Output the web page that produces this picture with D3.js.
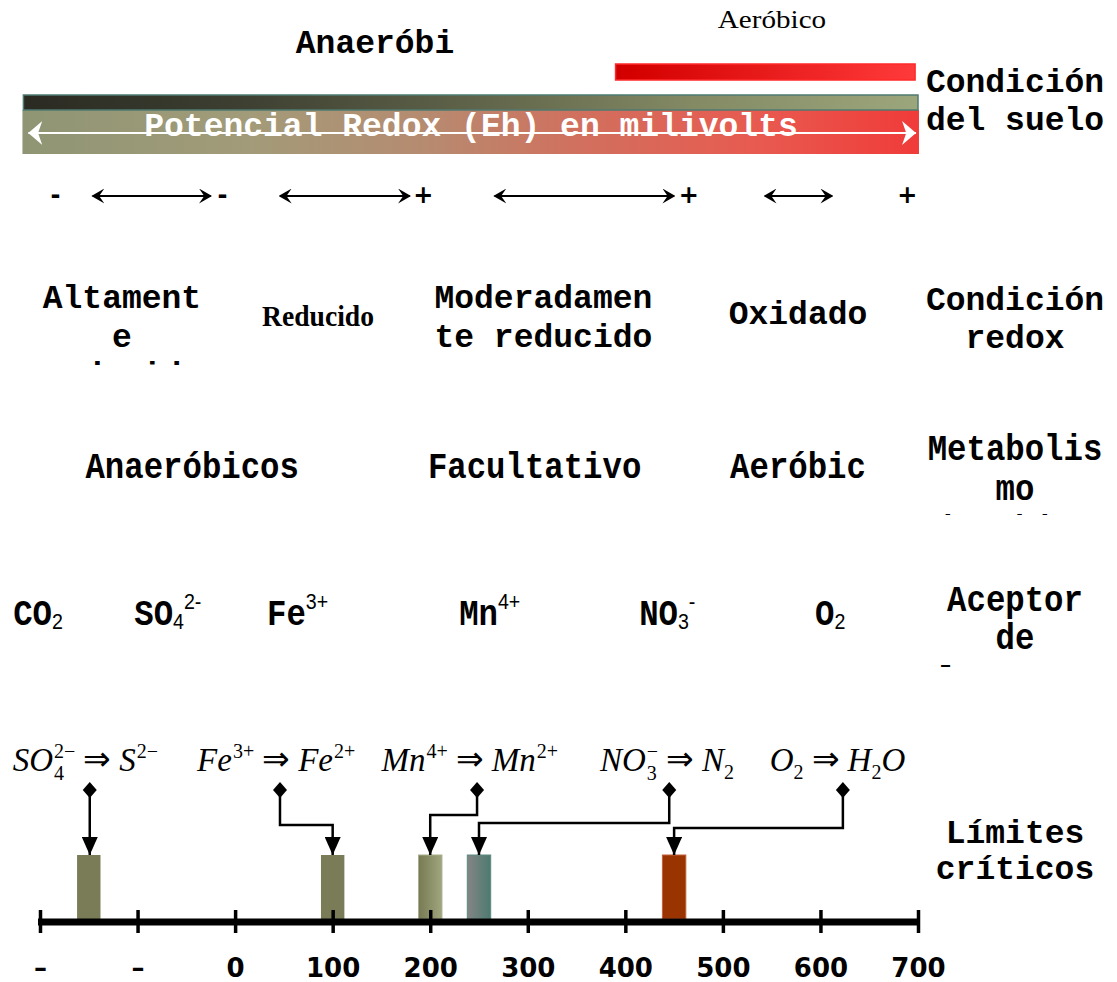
<!DOCTYPE html>
<html>
<head>
<meta charset="utf-8">
<script src="https://cdn.jsdelivr.net/npm/d3@7"></script>
<style>
  html, body { margin: 0; padding: 0; background: #ffffff; }
  svg { display: block; }
</style>
</head>
<body>
<svg id="chart" width="1117" height="982"></svg>
<script>
// ---------------- DATA ----------------
const axisTicks = [-200, -100, 0, 100, 200, 300, 400, 500, 600, 700];
const axisTickLabels = ["–", "–", "0", "100", "200", "300", "400", "500", "600", "700"];

// Critical limits (Eh, mV) for each reduction reaction
const limitReactions = ["SO4→S", "Fe3+→Fe2+", "Mn4+→Mn2+", "NO3→N2", "O2→H2O"];
const limitValues = [-150, 100, 200, 250, 450];
const limitWidth = 24; // mV wide marks

// Eh where each reaction label's pointer starts
const reactionPointerEh = [-149, 46, 248, 445, 623];

// Rows of labels
const redoxConditions = [["Altament", "e", "reducido"], ["Reducido"], ["Moderadamen", "te reducido"], ["Oxidado"]];
const redoxConditionEh = [-116, 85, 316, 577];

const metabolismTypes = ["Anaeróbicos", "Facultativo", "Aeróbic"];
const metabolismEh = [-44, 307, 577];

const acceptors = [
  [{t: "CO"}, {sub: "2"}],
  [{t: "SO"}, {sub: "4"}, {sup: "2-"}],
  [{t: "Fe"}, {sup: "3+"}],
  [{t: "Mn"}, {sup: "4+"}],
  [{t: "NO"}, {sub: "3"}, {sup: "-"}],
  [{t: "O"}, {sub: "2"}]
];
const acceptorEh = [-202, -69, 64, 261, 443, 610];

const reactions = [
  [{t: "SO"}, {subsup: ["4", "2−"]}, {op: "⇒"}, {t: "S"}, {sup: "2−"}],
  [{t: "Fe"}, {sup: "3+"}, {op: "⇒"}, {t: "Fe"}, {sup: "2+"}],
  [{t: "Mn"}, {sup: "4+"}, {op: "⇒"}, {t: "Mn"}, {sup: "2+"}],
  [{t: "NO"}, {subsup: ["3", "−"]}, {op: "⇒"}, {t: "N"}, {sub: "2"}],
  [{t: "O"}, {sub: "2"}, {op: "⇒"}, {t: "H"}, {sub: "2"}, {t: "O"}]
];
const reactionStartEh = [-228, -39, 150, 374, 548];

const rangeSigns = ["-", "-", "+", "+", "+"];
const rangeSignEh = [-184, -13, 193, 465, 689];
const rangeArrows = [[-146, -25], [46, 179], [266, 450], [543, 612]];

const rowTitles = [
  ["Condición", "del suelo"],
  ["Condición", "redox"],
  ["Metabolis", "mo", "microbiano"],
  ["Aceptor", "de", "electrones"],
  ["Límites", "críticos"]
];

// ---------------- CHART ----------------
const svg = d3.select("#chart");
const x = d3.scaleLinear().domain([-200, 700]).range([40, 918]);
const mono = "'Liberation Mono', 'Courier New', monospace";
const serif = "'Liberation Serif', 'Times New Roman', serif";
const FS = 33;

const defs = svg.append("defs");
function grad(id, stops) {
  const g = defs.append("linearGradient").attr("id", id).attr("x1", "0%").attr("x2", "100%").attr("y1", "0%").attr("y2", "0%");
  stops.forEach(([o, c]) => g.append("stop").attr("offset", o).attr("stop-color", c));
}
grad("gStrip", [["0%", "#2a2a22"], ["25%", "#3e4032"], ["50%", "#5f6349"], ["75%", "#838a64"], ["100%", "#9ca67c"]]);
grad("gMain", [["0%", "#8f9574"], ["25%", "#a29b79"], ["45%", "#b68b70"], ["62%", "#d1705e"], ["82%", "#e85a50"], ["100%", "#f03b39"]]);
grad("gRed", [["0%", "#d00000"], ["5%", "#d40000"], ["100%", "#ff3a3a"]]);
grad("gBar3", [["0%", "#777a52"], ["100%", "#a0a67e"]]);
grad("gBar4", [["0%", "#858585"], ["100%", "#4c7a70"]]);

defs.append("marker").attr("id", "arrowHead").attr("viewBox", "0 0 10 10").attr("refX", 9).attr("refY", 5)
  .attr("markerWidth", 13).attr("markerHeight", 15).attr("markerUnits", "userSpaceOnUse").attr("orient", "auto-start-reverse")
  .attr("preserveAspectRatio", "none")
  .append("path").attr("d", "M0,0 L10,5 L0,10 L4,5 Z").attr("fill", "#000");
defs.append("marker").attr("id", "whiteHead").attr("viewBox", "0 0 10 10").attr("refX", 10).attr("refY", 5)
  .attr("markerWidth", 14).attr("markerHeight", 24).attr("markerUnits", "userSpaceOnUse").attr("orient", "auto-start-reverse")
  .attr("preserveAspectRatio", "none")
  .append("path").attr("d", "M0,0 L10,5 L0,10 L3,5 Z").attr("fill", "#fff");
defs.append("marker").attr("id", "downHead").attr("viewBox", "0 0 10 10").attr("refX", 5).attr("refY", 10)
  .attr("markerWidth", 16).attr("markerHeight", 18).attr("markerUnits", "userSpaceOnUse").attr("orient", "0")
  .attr("preserveAspectRatio", "none")
  .append("path").attr("d", "M0,0 L10,0 L5,10 Z").attr("fill", "#000");

// ---- Header ----
svg.append("text").attr("x", 375).attr("y", 53).attr("text-anchor", "middle")
  .attr("font-family", mono).attr("font-weight", "bold").attr("font-size", FS).text("Anaeróbi");
svg.append("text").attr("x", 772).attr("y", 28).attr("text-anchor", "middle")
  .attr("font-family", serif).attr("font-size", 26)
  .attr("transform", "translate(772,0) scale(1.12,1) translate(-772,0)").text("Aeróbico");

svg.append("rect").attr("x", x(390)).attr("y", 64).attr("width", x(697) - x(390)).attr("height", 16)
  .attr("fill", "url(#gRed)").attr("stroke", "#ff2a2a").attr("stroke-width", 1.5);

svg.append("rect").attr("x", x(-218)).attr("y", 110).attr("width", x(701) - x(-218)).attr("height", 44)
  .attr("fill", "url(#gMain)");
svg.append("rect").attr("x", x(-217)).attr("y", 95).attr("width", x(700) - x(-217)).attr("height", 15)
  .attr("fill", "url(#gStrip)").attr("stroke", "#4e7b72").attr("stroke-width", 1.5);

svg.append("text").attr("x", 471).attr("y", 136).attr("text-anchor", "middle")
  .attr("font-family", mono).attr("font-weight", "bold").attr("font-size", FS).attr("fill", "#fff")
  .text("Potencial Redox (Eh) en milivolts");
svg.append("line").attr("x1", x(-212)).attr("x2", x(698)).attr("y1", 133).attr("y2", 133)
  .attr("stroke", "#fff").attr("stroke-width", 2)
  .attr("marker-start", "url(#whiteHead)").attr("marker-end", "url(#whiteHead)");

// ---- Range arrows ----
svg.selectAll(".rangeArrow").data(rangeArrows).join("line").attr("class", "rangeArrow")
  .attr("x1", d => x(d[0])).attr("x2", d => x(d[1])).attr("y1", 196).attr("y2", 196)
  .attr("stroke", "#000").attr("stroke-width", 2)
  .attr("marker-start", "url(#arrowHead)").attr("marker-end", "url(#arrowHead)");
svg.selectAll(".rangeSign").data(rangeSigns).join("text").attr("class", "rangeSign")
  .attr("x", (d, i) => x(rangeSignEh[i])).attr("y", 203).attr("text-anchor", "middle")
  .attr("font-family", "'DejaVu Sans', sans-serif").attr("font-weight", "bold").attr("font-size", 24).text(d => d);

// ---- helper for multi-line mono labels ----
function multiLine(g, lines, cx, firstBaseline, lineH) {
  const t = g.append("text").attr("text-anchor", "middle")
    .attr("font-family", mono).attr("font-weight", "bold").attr("font-size", FS);
  lines.forEach((l, i) => t.append("tspan").attr("x", cx).attr("y", firstBaseline + i * lineH).text(l));
  return t;
}

function clip(id, y0, y1) {
  defs.append("clipPath").attr("id", id).append("rect").attr("x", 0).attr("y", y0).attr("width", 1117).attr("height", y1 - y0);
}
clip("clipRedox", 0, 365);
clip("clipMeta", 0, 515);
clip("clipAcc", 0, 667);

// ---- Redox condition row ----
const redoxG = svg.append("g").attr("clip-path", "url(#clipRedox)");
redoxConditions.forEach((lines, i) => {
  const cx = x(redoxConditionEh[i]);
  if (lines[0] === "Reducido") {
    svg.append("text").attr("x", cx).attr("y", 326).attr("text-anchor", "middle")
      .attr("font-family", serif).attr("font-weight", "bold").attr("font-size", 30)
      .attr("transform", `translate(${cx},0) scale(0.92,1) translate(${-cx},0)`)
      .text(lines[0]);
  } else if (lines.length === 1) {
    multiLine(svg, lines, cx, 324, 38);
  } else {
    multiLine(redoxG, lines, cx, 308, 38.5);
  }
});

// ---- Metabolism row (condensed look) ----
metabolismTypes.forEach((m, i) => {
  svg.append("text").attr("text-anchor", "middle").attr("font-family", mono).attr("font-weight", "bold")
    .attr("font-size", FS).attr("transform", `translate(${x(metabolismEh[i])},478) scale(0.98,1.12)`).text(m);
});

// ---- Acceptors row ----
acceptors.forEach((parts, i) => {
  const g = svg.append("g").attr("transform", `translate(${x(acceptorEh[i])},625) scale(0.98,1.12)`);
  const t = g.append("text").attr("font-family", mono).attr("font-weight", "bold").attr("font-size", FS);
  let last = null;
  parts.forEach(p => {
    if (p.t) { t.append("tspan").text(p.t); last = "t"; }
    else if (p.sub) {
      t.append("tspan").attr("font-family", "'Liberation Sans', Arial, sans-serif").attr("font-weight", "normal")
        .attr("font-size", 20).attr("dy", 4).text(p.sub);
      last = "sub";
    } else if (p.sup) {
      t.append("tspan").attr("font-family", "'Liberation Sans', Arial, sans-serif").attr("font-weight", "normal")
        .attr("font-size", 20).attr("dy", last === "sub" ? -18 : -14).text(p.sup);
      last = "sup";
    }
  });
  const w = t.node().getComputedTextLength();
  t.attr("x", -w / 2);
});

// ---- Right-hand row titles ----
const titleBaselines = [[92, 130], [310, 348], [460, 500, 541], [611, 649, 692], [843, 879]];
rowTitles.forEach((lines, i) => {
  const cx = 1015;
  if (i === 2 || i === 3) {
    const g = svg.append("g").attr("clip-path", `url(#${i === 2 ? "clipMeta" : "clipAcc"})`);
    lines.forEach((l, j) => {
      g.append("text").attr("text-anchor", "middle").attr("font-family", mono).attr("font-weight", "bold")
        .attr("font-size", FS).attr("transform", `translate(${cx},${titleBaselines[i][j]}) scale(0.98,1.12)`).text(l);
    });
  } else {
    const t = svg.append("text").attr("text-anchor", "middle").attr("font-family", mono).attr("font-weight", "bold").attr("font-size", FS);
    lines.forEach((l, j) => t.append("tspan").attr("x", cx).attr("y", titleBaselines[i][j]).text(l));
  }
});

// ---- Reaction formulas ----
reactions.forEach((parts, i) => {
  const g = svg.append("g").attr("transform", `translate(${x(reactionStartEh[i])},771)`);
  let cx = 0;
  const base = 33, small = 20;
  parts.forEach(p => {
    if (p.t) {
      const el = g.append("text").attr("x", cx).attr("y", 0).attr("font-family", serif)
        .attr("font-style", "italic").attr("font-size", base).text(p.t);
      cx += el.node().getComputedTextLength();
    } else if (p.op) {
      cx += 8;
      const el = g.append("text").attr("x", cx).attr("y", -1).attr("font-family", serif).attr("font-size", base).text(p.op);
      cx += el.node().getComputedTextLength() + 8;
    } else if (p.sup) {
      const el = g.append("text").attr("x", cx + 1).attr("y", -13).attr("font-family", serif).attr("font-size", small).text(p.sup);
      cx += el.node().getComputedTextLength() + 1;
    } else if (p.sub) {
      const el = g.append("text").attr("x", cx).attr("y", 8).attr("font-family", serif).attr("font-size", small).text(p.sub);
      cx += el.node().getComputedTextLength();
    } else if (p.subsup) {
      const a = g.append("text").attr("x", cx + 1).attr("y", 9).attr("font-family", serif).attr("font-size", small).text(p.subsup[0]);
      const b = g.append("text").attr("x", cx + 1).attr("y", -13).attr("font-family", serif).attr("font-size", small).text(p.subsup[1]);
      cx += Math.max(a.node().getComputedTextLength(), b.node().getComputedTextLength()) + 1;
    }
  });
});

// ---- Critical limit bars ----
const barTop = 855, axisY = 922;
const barFills = ["#797c56", "#797c56", "url(#gBar3)", "url(#gBar4)", "#993300"];
const barStrokes = ["none", "none", "#a9ae8c", "#5c8a80", "#c0603a"];
svg.selectAll(".limitBar").data(limitValues).join("rect").attr("class", "limitBar")
  .attr("x", d => x(d - limitWidth / 2)).attr("width", d => x(limitWidth) - x(0))
  .attr("y", barTop).attr("height", axisY - 3 - barTop)
  .attr("fill", (d, i) => barFills[i]).attr("stroke", (d, i) => barStrokes[i]).attr("stroke-width", 1);

// ---- Connectors ----
const elbowY = [null, 825, 815, 823, 828];
limitValues.forEach((v, i) => {
  const sx = x(reactionPointerEh[i]), ex = x(v), sy = 790;
  let d;
  if (elbowY[i] === null) d = `M${sx},${sy} L${sx},${barTop}`;
  else d = `M${sx},${sy} L${sx},${elbowY[i]} L${ex},${elbowY[i]} L${ex},${barTop}`;
  svg.append("path").attr("d", d).attr("fill", "none").attr("stroke", "#000").attr("stroke-width", 2.5)
    .attr("marker-end", "url(#downHead)");
  svg.append("path").attr("d", `M${sx},${sy - 8} L${sx + 7},${sy} L${sx},${sy + 8} L${sx - 7},${sy} Z`).attr("fill", "#000");
});

// ---- Axis ----
const axisG = svg.append("g").attr("transform", `translate(0,${axisY})`);
const axis = d3.axisBottom(x).tickValues(axisTicks).tickFormat((d, i) => axisTickLabels[i]).tickSize(0).tickPadding(0);
axisG.call(axis);
axisG.select(".domain").attr("stroke", "#000").attr("stroke-width", 7).attr("d", `M${x(-200) - 2},0H${x(700) + 2}`);
axisG.selectAll(".tick line").attr("y1", -12).attr("y2", 11).attr("stroke", "#000").attr("stroke-width", 3.5);
axisG.selectAll(".tick text").attr("y", 55).attr("dy", 0)
  .attr("font-family", "'DejaVu Sans', Verdana, sans-serif").attr("font-weight", "bold").attr("font-size", 26).attr("fill", "#000");
</script>
</body>
</html>
